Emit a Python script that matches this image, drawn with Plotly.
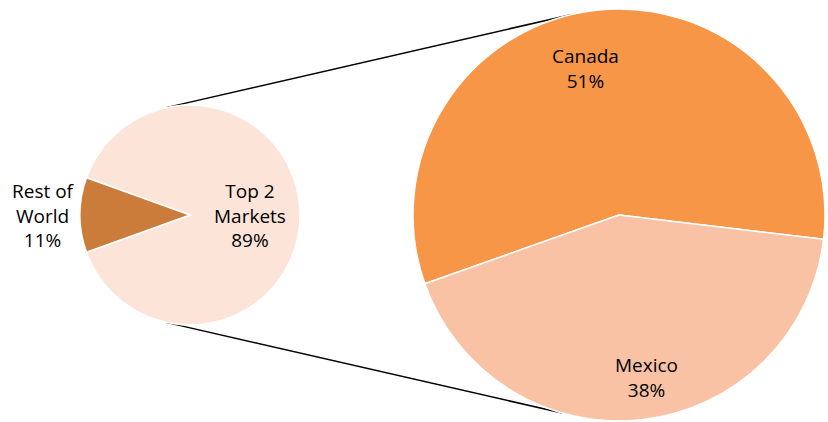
import math
import plotly.graph_objects as go

# ---- data ----
overview_labels = ["Top 2 Markets", "Rest of World"]
overview_display = ["Top 2<br>Markets", "Rest of<br>World"]
overview_values = [89, 11]

market_labels = ["Canada", "Mexico"]
market_display = ["Canada", "Mexico"]
market_values = [51, 38]

# ---- styles ----
overview_colors = ["#FCE4D8", "#CB7B3A"]
market_colors = ["#F79646", "#F9C2A5"]
# label placement: (radius fraction, angle nudge in degrees)
overview_label_pos = [(0.545, 0.0), (1.33, 0.0)]
market_label_pos = [(0.73, 6.6), (0.80, 3.2)]

total = sum(overview_values)
overview_text = [f"{d}<br>{round(100 * v / total)}%" for d, v in zip(overview_display, overview_values)]
market_text = [f"{d}<br>{round(100 * v / total)}%" for d, v in zip(market_display, market_values)]

W, H = 828, 422
FONT = "'Open Sans', Lato, sans-serif"
FSIZE = 19

small_c, small_r = (190, 215), 110
big_c, big_r = (619, 215), 206
# math angle (deg, ccw from 3 o'clock) where the first slice starts; slices run clockwise
small_start = 160.2
big_start = 199.5


def dom(c, r):
    return dict(x=[(c[0] - r) / W, (c[0] + r) / W],
                y=[(H - c[1] - r) / H, (H - c[1] + r) / H])


def to_paper(x, y):
    return x / W, (H - y) / H


def pt(c, r, ang_deg):
    a = math.radians(ang_deg)
    return to_paper(c[0] + r * math.cos(a), c[1] - r * math.sin(a))


fig = go.Figure()
fig.add_trace(go.Pie(
    labels=overview_labels, values=overview_values, text=overview_text,
    textinfo="none", sort=False, direction="clockwise",
    rotation=90 - small_start,
    marker=dict(colors=overview_colors, line=dict(color="white", width=1.5)),
    domain=dom(small_c, small_r), showlegend=False, hoverinfo="label+value",
))
fig.add_trace(go.Pie(
    labels=market_labels, values=market_values, text=market_text,
    textinfo="none", sort=False, direction="clockwise",
    rotation=90 - big_start,
    marker=dict(colors=market_colors, line=dict(color="white", width=1.5)),
    domain=dom(big_c, big_r), showlegend=False, hoverinfo="label+value",
))


def label_annotations(values, texts, c, r, start, pos):
    anns = []
    tot = sum(values)
    a0 = start
    for v, t, (f, nudge) in zip(values, texts, pos):
        span = 360.0 * v / tot
        mid = a0 - span / 2 + nudge
        x, y = pt(c, r * f, mid)
        anns.append(dict(x=x, y=y, xref="paper", yref="paper", text=t,
                         showarrow=False, xanchor="center", yanchor="middle",
                         align="center",
                         font=dict(family=FONT, size=FSIZE, color="#000000")))
        a0 -= span
    return anns


annotations = (label_annotations(overview_values, overview_text, small_c, small_r, small_start, overview_label_pos)
               + label_annotations(market_values, market_text, big_c, big_r, big_start, market_label_pos))

shapes = []
for a_small, a_big in [(102.5, 103.5), (257.5, 254.0)]:
    x0, y0 = pt(small_c, small_r, a_small)
    x1, y1 = pt(big_c, big_r, a_big)
    shapes.append(dict(type="line", xref="paper", yref="paper",
                       x0=x0, y0=y0, x1=x1, y1=y1,
                       line=dict(color="black", width=1.5), layer="below"))

fig.update_layout(
    width=W, height=H, margin=dict(l=0, r=0, t=0, b=0),
    paper_bgcolor="white", plot_bgcolor="white",
    shapes=shapes, annotations=annotations,
    font=dict(family=FONT, size=FSIZE, color="#000000"),
)

fig.write_html("out.html")
